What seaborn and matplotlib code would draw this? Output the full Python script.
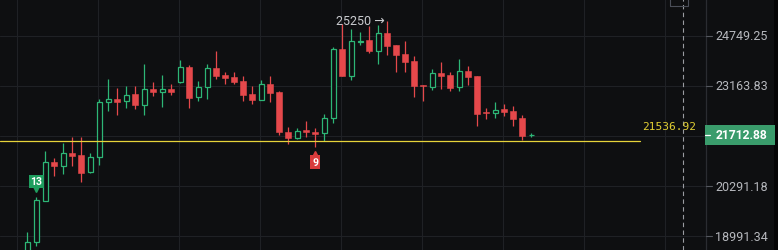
import numpy as np
import pandas as pd
import seaborn as sns
import matplotlib
matplotlib.use("Agg")
import matplotlib.pyplot as plt
import matplotlib.transforms as mtransforms
from matplotlib.patches import Rectangle
from matplotlib.ticker import NullLocator

# ---------------- data ----------------
opens = [18560, 18842, 19906, 20957, 20846, 21199, 21143, 20665, 21079, 22666,
         22765, 22696, 22916, 22595, 23068, 22986, 23068, 23272, 23757, 22816,
         23120, 23716, 23498, 23427, 23303, 22916, 22744, 23220, 22968, 21786,
         21614, 21852, 21786, 21766, 22193, 24319, 23476, 24551, 24609, 24239,
         24838, 24448, 24159, 23927, 23190, 23137, 23560, 23498, 23120, 23632,
         23476, 22392, 22340, 22466, 22416, 22201, 21700]
highs = [19110, 20011, 21247, 21060, 21480, 21660, 21660, 21191, 22765, 23374,
         23089, 23150, 23150, 23842, 23290, 23498, 23211, 23978, 23811, 23312,
         23842, 24265, 23601, 23582, 23458, 23150, 23343, 23476, 23016, 21930,
         21901, 22122, 21901, 22319, 24374, 25134, 24979, 24861, 25052, 25091,
         25250, 24455, 24587, 24105, 23195, 23685, 23896, 23582, 24000, 23789,
         23480, 22505, 22666, 22606, 22564, 22290, 21766]
lows = [18420, 18750, 19900, 20573, 20619, 20846, 20411, 20660, 20874, 22416,
        22290, 22487, 22466, 22290, 22865, 22517, 22886, 23266, 22487, 22714,
        22765, 23374, 23220, 23220, 22714, 22615, 22735, 22666, 21708, 21452,
        21608, 21643, 21359, 21546, 22055, 23467, 23343, 24448, 24185, 23842,
        24134, 23582, 23601, 22834, 22714, 23047, 23068, 23016, 23016, 23190,
        21977, 22172, 22193, 22269, 21959, 21574, 21651]
closes = [18840, 19924, 20939, 20846, 21191, 21124, 20646, 21079, 22666, 22765,
          22684, 22895, 22586, 23068, 22986, 23068, 22986, 23738, 22795, 23120,
          23707, 23476, 23414, 23272, 22895, 22744, 23220, 22937, 21786, 21614,
          21832, 21786, 21737, 22193, 24319, 23476, 24567, 24584, 24239, 24828,
          24425, 24137, 23915, 23168, 23150, 23551, 23476, 23089, 23632, 23445,
          22319, 22340, 22437, 22387, 22172, 21671, 21712.88]

tick_values = [24749.25, 23163.83, 21680.00, 20291.18, 18991.34]
tick_labels = ["24749.25", "23163.83", "", "20291.18", "18991.34"]
last_price = 21712.88
level_price = 21536.92
peak_price = 25250
peak_label = "25250 →"
count_up_label, count_up_idx = "13", 1
count_dn_label, count_dn_idx = "9", 32

# ---------------- style ----------------
BG = "#0e0f11"
GRID = "#1f2125"
UP = "#2db676"
DOWN = "#e5484b"
TXT = "#b6b8bd"

sns.set_theme(style="dark", rc={"axes.facecolor": BG, "figure.facecolor": BG,
                                "savefig.facecolor": BG})
plt.rcParams["font.family"] = ["Roboto", "DejaVu Sans"]

W, H = 778, 251
PLOT_W = 706
fig = plt.figure(figsize=(W / 100, H / 100), dpi=100)
ax = fig.add_axes([0, 0, PLOT_W / W, 1])
ax.set_facecolor(BG)
ax.set_yscale("log")
ax.set_ylim(18652, 25978)
x0 = -27.3 / 9
ax.set_xlim(x0, x0 + PLOT_W / 9)
ax.yaxis.set_major_locator(NullLocator())
ax.yaxis.set_minor_locator(NullLocator())
ax.xaxis.set_major_locator(NullLocator())
for s in ax.spines.values():
    s.set_visible(False)

# grid
for v in tick_values:
    ax.axhline(v, color=GRID, lw=0.8, zorder=0)
for g in np.arange(-1.15, 75, 9):
    ax.axvline(g, color=GRID, lw=0.8, zorder=0)

df = pd.DataFrame({"open": opens, "high": highs, "low": lows, "close": closes})
df["idx"] = np.arange(len(df))
df["up"] = df["close"] >= df["open"]
df["bottom"] = df[["open", "close"]].min(axis=1)
df["height"] = (df["open"] - df["close"]).abs()

colors = np.where(df["up"], UP, DOWN)
ax.vlines(df["idx"], df["low"], df["high"], colors=colors, lw=0.9, zorder=2)
dn = df[~df["up"]]
upd = df[df["up"]]
ax.bar(dn["idx"], dn["height"], bottom=dn["bottom"], width=0.68,
       color=DOWN, edgecolor=DOWN, lw=0.4, zorder=3)
ax.bar(upd["idx"], upd["height"], bottom=upd["bottom"], width=0.58,
       facecolor=BG, edgecolor=UP, lw=0.9, zorder=3)

# yellow level line and label
blend = mtransforms.blended_transform_factory(ax.transAxes, ax.transData)
ax.axhline(level_price, xmin=0, xmax=640 / PLOT_W, color="#e6d33a", lw=0.9, zorder=4)
ax.annotate(f"{level_price:.2f}", xy=(642 / PLOT_W, level_price), xycoords=blend,
            xytext=(0, 10.5), textcoords="offset points", ha="left", va="center",
            color="#e2cf33", fontsize=8, family="DejaVu Sans Mono", zorder=5)

# dashed vertical line
ax.axvline(x0 + 683 / 9, color="#9a9ca2", lw=0.8, ls=(0, (4, 3)), zorder=1)

# peak annotation
ax.text(x0 + 385 / 9, peak_price, peak_label, ha="right", va="center",
        color="#c9cbcf", fontsize=9, zorder=5)

# count labels
ax.annotate(count_up_label, xy=(count_up_idx, highs[count_up_idx]),
            xytext=(0, 11), textcoords="offset points", ha="center", va="center",
            color="white", fontsize=7.5, fontweight="bold", zorder=6,
            bbox=dict(boxstyle="square,pad=0.15", fc="#1f9e5f", ec="none"))
ax.plot([count_up_idx], [highs[count_up_idx]], marker="v", ms=4, color="#1f9e5f",
        transform=mtransforms.offset_copy(ax.transData, fig=fig, x=0, y=5.3, units="points"),
        zorder=6, ls="none")
ax.annotate(count_dn_label, xy=(count_dn_idx, lows[count_dn_idx]),
            xytext=(0, -10.5), textcoords="offset points", ha="center", va="center",
            color="white", fontsize=7.5, fontweight="bold", zorder=6,
            bbox=dict(boxstyle="square,pad=0.2", fc="#d93b3c", ec="none"))
ax.plot([count_dn_idx], [lows[count_dn_idx]], marker="^", ms=4, color="#d93b3c",
        transform=mtransforms.offset_copy(ax.transData, fig=fig, x=0, y=-4.6, units="points"),
        zorder=6, ls="none")

# price axis
ax.plot([1, 1], [0, 1], transform=ax.transAxes, clip_on=False, color="#2a2c31", lw=0.9)
for v, lab in zip(tick_values, tick_labels):
    if not lab:
        continue
    ax.plot([1.0, 1.008], [v, v], transform=blend, clip_on=False, color="#55585f", lw=0.8)
    ax.text(715 / PLOT_W, v, lab, transform=blend, ha="left", va="center",
            color=TXT, fontsize=9, clip_on=False)

# current price box
ylp = ax.transData.transform((0, last_price))[1] / fig.dpi / (H / 100)
fig.patches.append(Rectangle((705 / W, ylp - 10 / H), 70 / W, 20 / H,
                             transform=fig.transFigure, facecolor="#3a9c6c",
                             edgecolor="none", zorder=5))
fig.lines.append(plt.Line2D([705 / W, 710 / W], [ylp, ylp], transform=fig.transFigure,
                            color="white", lw=0.9, zorder=6))
fig.text(716 / W, ylp, f"{last_price:.2f}", ha="left", va="center", color="white",
         fontsize=8.7, fontweight="bold", zorder=7)

# small icon at top
fig.patches.append(Rectangle((670 / W, 1 - 7 / H), 18 / W, 9 / H, transform=fig.transFigure,
                             facecolor="none", edgecolor="#4a4e58", lw=0.8, zorder=5))
# right edge strip
fig.patches.append(Rectangle((774 / W, 0), 4 / W, 1, transform=fig.transFigure,
                             facecolor="#050506", edgecolor="none", zorder=4))

fig.savefig("out.png", dpi=100, facecolor=BG)
